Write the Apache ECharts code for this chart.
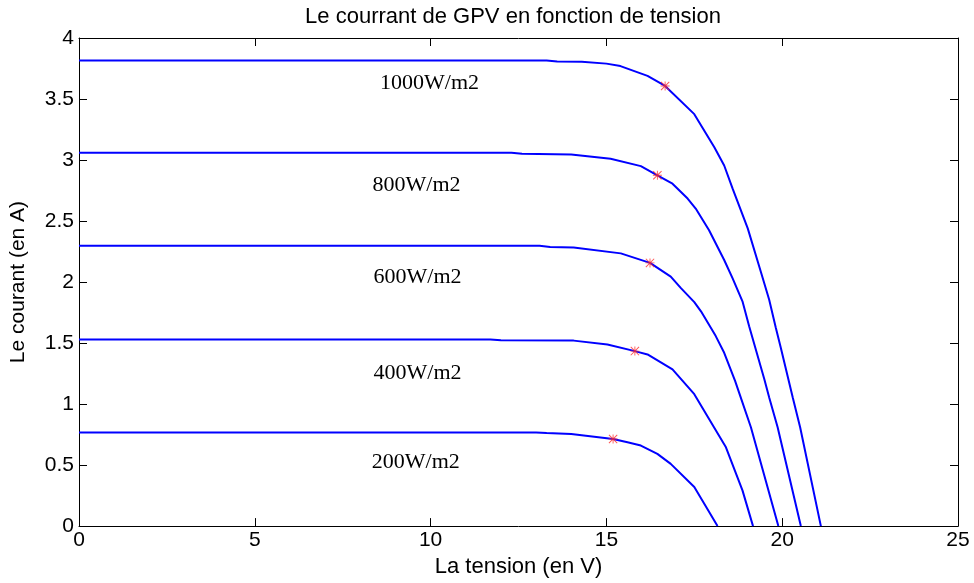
<!DOCTYPE html>
<html>
<head>
<meta charset="utf-8">
<script src="https://cdn.jsdelivr.net/npm/echarts@6/dist/echarts.min.js"></script>
<style>
html,body{margin:0;padding:0;background:#fff;}
#chart{width:974px;height:583px;}
</style>
</head>
<body>
<div id="chart"></div>
<script>
// ---- data ----
var xTicks = [0, 5, 10, 15, 20, 25];
var yTicks = [0, 0.5, 1, 1.5, 2, 2.5, 3, 3.5, 4];

var curve1000 = [[0,3.815],[13.3,3.815],[13.6,3.807],[14.3,3.805],[15.0,3.79],[15.4,3.77],[16.17,3.69],[16.67,3.607],[17.5,3.376],[18.07,3.105],[18.35,2.955],[18.59,2.765],[19.02,2.44],[19.39,2.086],[19.63,1.855],[19.82,1.624],[19.96,1.461],[20.3,1.054],[20.51,0.81],[21.10,0]];
var curve800 = [[0,3.06],[12.3,3.06],[12.6,3.052],[14.0,3.045],[15.12,3.01],[15.98,2.95],[16.45,2.875],[16.88,2.806],[17.31,2.684],[17.54,2.602],[17.92,2.425],[18.35,2.181],[18.59,2.03],[18.87,1.842],[19.06,1.638],[19.49,1.205],[19.63,1.054],[19.87,0.81],[20.53,0]];
var curve600 = [[0,2.298],[13.1,2.298],[13.4,2.288],[14.07,2.284],[15.41,2.235],[16.24,2.157],[16.83,2.045],[17.12,1.95],[17.5,1.835],[17.69,1.76],[18.11,1.557],[18.35,1.42],[18.66,1.19],[18.82,1.055],[19.11,0.81],[19.89,0]];
var curve400 = [[0,1.53],[11.7,1.53],[12.0,1.523],[14.07,1.52],[15.03,1.488],[15.81,1.434],[16.17,1.407],[16.88,1.284],[17.5,1.081],[18.06,0.81],[18.4,0.646],[18.87,0.293],[19.17,0]];
var curve200 = [[0,0.768],[13.0,0.768],[13.3,0.762],[14.0,0.755],[15.19,0.714],[15.6,0.687],[15.98,0.66],[16.45,0.592],[16.83,0.51],[17.5,0.32],[18.16,0]];

var mppV = [16.67, 16.45, 16.24, 15.81, 15.19];
var mppI = [3.607, 2.875, 2.157, 1.434, 0.714];

var irrLabels = ['1000W/m2', '800W/m2', '600W/m2', '400W/m2', '200W/m2'];
var irrLabelV = [9.97, 9.6, 9.63, 9.63, 9.58];
var irrLabelI = [3.63, 2.79, 2.04, 1.25, 0.52];

// ---- chart ----
var sans = "'Liberation Sans', Arial, Helvetica, sans-serif";
var serif = "'Liberation Serif', 'Times New Roman', serif";
var asterisk = 'path://M0 9H20V11H0Z M9 0H11V20H9Z M1.5 0L20 18.5L18.5 20L0 1.5Z M18.5 0L20 1.5L1.5 20L0 18.5Z';

var chart = echarts.init(document.getElementById('chart'), null, {renderer: 'canvas'});

function curveSeries(name, data) {
  return {
    name: name, type: 'line', data: data, xAxisIndex: 0, yAxisIndex: 0,
    showSymbol: false, symbol: 'none', animation: false,
    lineStyle: {color: '#0000ff', width: 2}, z: 3
  };
}

var mppData = mppV.map(function (v, i) { return [v, mppI[i]]; });
var labelData = irrLabels.map(function (t, i) { return {value: [irrLabelV[i], irrLabelI[i]], name: t}; });

var option = {
  backgroundColor: '#ffffff',
  animation: false,
  graphic: [{
    type: 'text', x: 513, y: 17,
    style: {text: 'Le courrant de GPV en fonction de tension', fontFamily: sans, fontSize: 22,
      fill: '#000', align: 'center', verticalAlign: 'middle'}
  }],
  grid: {left: 78.5, right: 16, top: 38, bottom: 54, containLabel: false},
  xAxis: [{
    type: 'value', min: 0, max: 25, interval: 5,
    name: 'La tension (en V)', nameLocation: 'middle', nameGap: 25,
    nameTextStyle: {fontFamily: sans, fontSize: 22, color: '#000'},
    axisLine: {show: true, onZero: false, lineStyle: {color: '#000', width: 1}},
    axisTick: {show: true, inside: true, length: 8, lineStyle: {color: '#000'}},
    axisLabel: {fontFamily: sans, fontSize: 21, color: '#000', margin: 4,
      customValues: xTicks},
    splitLine: {show: false}
  }, {
    type: 'value', min: 0, max: 25, interval: 5, position: 'top',
    axisLine: {show: true, onZero: false, lineStyle: {color: '#000', width: 1}},
    axisTick: {show: true, inside: true, length: 8, lineStyle: {color: '#000'}},
    axisLabel: {show: false}, splitLine: {show: false}
  }],
  yAxis: [{
    type: 'value', min: 0, max: 4, interval: 0.5,
    name: 'Le courant (en A)', nameLocation: 'middle', nameGap: 50,
    nameTextStyle: {fontFamily: sans, fontSize: 21, color: '#000'},
    axisLine: {show: true, onZero: false, lineStyle: {color: '#000', width: 1}},
    axisTick: {show: true, inside: true, length: 8, lineStyle: {color: '#000'}},
    axisLabel: {fontFamily: sans, fontSize: 21, color: '#000', margin: 5,
      customValues: yTicks},
    splitLine: {show: false}
  }, {
    type: 'value', min: 0, max: 4, interval: 0.5, position: 'right',
    axisLine: {show: true, onZero: false, lineStyle: {color: '#000', width: 1}},
    axisTick: {show: true, inside: true, length: 8, lineStyle: {color: '#000'}},
    axisLabel: {show: false}, splitLine: {show: false}
  }],
  series: [
    curveSeries('1000', curve1000),
    curveSeries('800', curve800),
    curveSeries('600', curve600),
    curveSeries('400', curve400),
    curveSeries('200', curve200),
    {
      name: 'mpp', type: 'scatter', data: mppData, symbol: asterisk, symbolSize: 9,
      itemStyle: {color: '#ff2a2a'}, z: 5, animation: false
    },
    {
      name: 'labels', type: 'scatter', data: labelData, symbolSize: 0, z: 4,
      itemStyle: {opacity: 1},
      label: {show: true, position: 'inside', formatter: '{b}', fontFamily: serif,
        fontSize: 22, color: '#000', opacity: 1, textBorderWidth: 0},
      animation: false, silent: true
    }
  ]
};
chart.setOption(option);
</script>
</body>
</html>
